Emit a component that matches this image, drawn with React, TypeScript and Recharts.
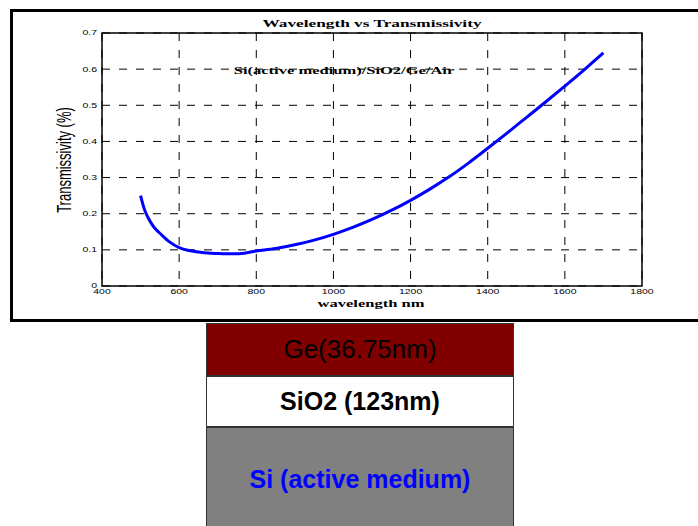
import React from "react";
import {
  CartesianGrid,
  Line,
  LineChart,
  ReferenceArea,
  XAxis,
  YAxis,
} from "recharts";

const wavelength = [
  500, 510, 520, 530, 540, 550, 575, 600, 625, 650, 675, 700, 750, 800, 850,
  900, 950, 1000, 1050, 1100, 1150, 1200, 1250, 1300, 1350, 1400, 1450, 1500,
  1550, 1600, 1650, 1700,
];
const transmissivity = [
  0.25, 0.212, 0.188, 0.17, 0.156, 0.146, 0.122, 0.106, 0.098, 0.094, 0.091,
  0.09, 0.089, 0.097, 0.104, 0.114, 0.127, 0.143, 0.162, 0.184, 0.209, 0.237,
  0.268, 0.302, 0.34, 0.381, 0.423, 0.466, 0.509, 0.553, 0.598, 0.645,
];
const xTicks = [400, 600, 800, 1000, 1200, 1400, 1600, 1800];
const yTicks = [0, 0.1, 0.2, 0.3, 0.4, 0.5, 0.6, 0.7];

const layers = [
  { name: "Ge(36.75nm)", fill: "#800000", color: "#000", weight: 400, height: 53 },
  { name: "SiO2 (123nm)", fill: "#ffffff", color: "#000", weight: 700, height: 51 },
  { name: "Si (active medium)", fill: "#808080", color: "#0000ff", weight: 700, height: 104 },
];

const data = wavelength.map((w, i) => ({ w, t: transmissivity[i] }));

const SANS = '"Liberation Sans", Arial, sans-serif';
const SERIF = '"Liberation Serif", "Times New Roman", serif';

function XTick(props: any) {
  const { x, y, payload } = props;
  return (
    <text
      transform={`translate(${x},${y}) scale(1.5,1)`}
      textAnchor="middle"
      dy="0.71em"
      fontSize={7}
      fontFamily={SANS}
      fill="#000"
    >
      {payload.value}
    </text>
  );
}

function YTick(props: any) {
  const { x, y, payload } = props;
  return (
    <text
      transform={`translate(${x},${y}) scale(1.5,1)`}
      textAnchor="end"
      dy="0.355em"
      fontSize={7}
      fontFamily={SANS}
      fill="#000"
    >
      {String(Math.round(payload.value * 10) / 10)}
    </text>
  );
}

// the source figure is stretched sideways, so its texts are too
function Stretched({
  x,
  y,
  children,
  style,
  vertical,
  sx = 1.5,
}: {
  x: number;
  y: number;
  children: React.ReactNode;
  style: React.CSSProperties;
  vertical?: boolean;
  sx?: number;
}) {
  return (
    <div style={{ position: "absolute", left: x, top: y, width: 0, height: 0 }}>
      <span
        style={{
          position: "absolute",
          whiteSpace: "nowrap",
          lineHeight: 1,
          transform: vertical
            ? `translate(-50%,-50%) scaleX(${sx}) rotate(-90deg)`
            : `translate(-50%,-50%) scaleX(${sx})`,
          ...style,
        }}
      >
        {children}
      </span>
    </div>
  );
}

export default function App() {
  let top = 323;
  return (
    <div
      style={{
        position: "absolute",
        left: 0,
        top: 0,
        width: 698,
        height: 526,
        overflow: "hidden",
        background: "#fff",
      }}
    >
      <div
        style={{
          position: "absolute",
          left: 10,
          top: 9,
          width: 700,
          height: 307,
          border: "3px solid #000",
        }}
      />
      <div style={{ position: "absolute", left: 0, top: 0 }}>
        <LineChart
          width={698}
          height={320}
          data={data}
          margin={{ top: 33, right: 56, bottom: 4, left: 62 }}
        >
          <CartesianGrid stroke="#000" strokeDasharray="8 9" strokeWidth={1} />
          <XAxis
            dataKey="w"
            type="number"
            domain={[400, 1800]}
            ticks={xTicks}
            interval={0}
            height={30}
            tickLine={false}
            tickSize={0}
            tickMargin={3}
            axisLine={false}
            tick={<XTick />}
          />
          <YAxis
            type="number"
            domain={[0, 0.7]}
            ticks={yTicks}
            interval={0}
            width={40}
            tickLine={false}
            tickSize={0}
            tickMargin={5}
            axisLine={false}
            tick={<YTick />}
          />
          <ReferenceArea
            x1={400}
            x2={1800}
            y1={0}
            y2={0.7}
            fill="none"
            stroke="#000"
            strokeWidth={1.5}
            fillOpacity={0}
          />
          <Line
            type="monotone"
            dataKey="t"
            stroke="#0000ff"
            strokeWidth={3}
            dot={false}
            isAnimationActive={false}
          />
        </LineChart>
      </div>
      <Stretched
        x={372}
        y={23}
        sx={1.57}
        style={{ fontFamily: SERIF, fontWeight: 700, fontSize: 11, color: "#000" }}
      >
        Wavelength vs Transmissivity
      </Stretched>
      <Stretched
        x={344}
        y={70}
        style={{ fontFamily: SERIF, fontWeight: 700, fontSize: 11, color: "#000" }}
      >
        Si(active medium)/SiO2/Ge/Air
      </Stretched>
      <Stretched
        x={371}
        y={303}
        style={{ fontFamily: SERIF, fontWeight: 700, fontSize: 11, color: "#000" }}
      >
        wavelength nm
      </Stretched>
      <Stretched
        x={64}
        y={160}
        vertical
        style={{ fontFamily: SANS, fontSize: 13, color: "#000" }}
      >
        Transmissivity (%)
      </Stretched>
      {layers.map((l) => {
        const t = top;
        top += l.height;
        return (
          <div
            key={l.name}
            style={{
              position: "absolute",
              left: 206,
              top: t,
              width: 308,
              height: l.height,
              boxSizing: "border-box",
              border: "1px solid #333",
              background: l.fill,
              color: l.color,
              fontFamily: SANS,
              fontWeight: l.weight,
              fontSize: l.weight === 700 ? 25 : 26,
              display: "flex",
              alignItems: "center",
              justifyContent: "center",
              whiteSpace: "nowrap",
            }}
          >
            {l.name}
          </div>
        );
      })}
    </div>
  );
}
